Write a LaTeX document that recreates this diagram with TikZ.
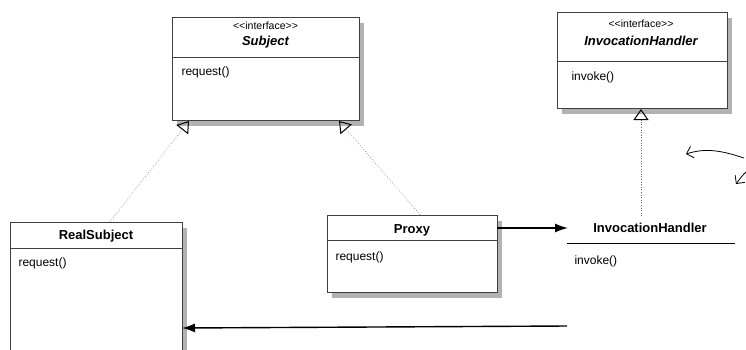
\documentclass[tikz,border=0pt]{standalone}
\usepackage{fontspec}
\setmainfont{Liberation Sans}
\usetikzlibrary{arrows.meta,shadows}

\tikzset{
  classbox/.style={draw=black!75, line width=0.6pt, fill=white, rectangle,
    drop shadow={shadow xshift=5pt, shadow yshift=-6pt, fill=black, opacity=0.3}},
  stereo/.style={font=\fontsize{10.5}{12}\selectfont},
  cname/.style={font=\fontsize{13}{15}\selectfont\bfseries},
  method/.style={anchor=west, font=\fontsize{12}{14}\selectfont},
  realize/.style={dotted, line width=0.6pt, black!60, -{Triangle[open, width=15pt, length=11pt, black, line width=1pt]}},
  assoc/.style={line width=1.4pt, -{Latex[length=13pt, width=9pt]}}
}

\begin{document}
\begin{tikzpicture}[x=1pt, y=-1pt]
        \useasboundingbox (0,0) rectangle (746,349);
        \node[classbox, minimum width=187pt, minimum height=103pt] (subject) at (265.5,68.5) {};
        \node[stereo] (subjectStereo) at (265.5,26) {{<}{<}interface{>}{>}};
        \node[cname, font=\fontsize{13}{15}\selectfont\bfseries\itshape] (subjectName) at (265.5,42) {Subject};
        \draw[line width=0.6pt, black!75] (172,57) -- (359,57);
        \node[method] (subjectReq) at (178,72) {request()};

        \node[classbox, minimum width=170pt, minimum height=96pt] (handlerIf) at (642,60) {};
        \node[stereo] (handlerStereo) at (641,24) {{<}{<}interface{>}{>}};
        \node[cname, font=\fontsize{13}{15}\selectfont\bfseries\itshape] (handlerIfName) at (641,41) {InvocationHandler};
        \draw[line width=0.6pt, black!75] (557,61) -- (727,61);
        \node[method] (handlerIfInvoke) at (568,77) {invoke()};

        \node[classbox, minimum width=172pt, minimum height=128pt] (realSubject) at (96,286) {};
        \node[cname] (realSubjectName) at (96,236) {RealSubject};
        \draw[line width=0.6pt, black!75] (10,248) -- (182,248);
        \node[method] (realSubjectReq) at (15,263) {request()};

        \node[classbox, minimum width=170pt, minimum height=77pt] (proxy) at (412,253.5) {};
        \node[cname] (proxyName) at (412,230) {Proxy};
        \draw[line width=0.6pt, black!75] (327,240) -- (497,240);
        \node[method] (proxyReq) at (332,257) {request()};

        \node[cname] (handler) at (650,228) {InvocationHandler};
        \draw[line width=0.7pt] (567,243) -- (735,243);
        \node[method] (handlerInvoke) at (571,261) {invoke()};

        \coordinate (subjectLeft) at (189,121);
        \coordinate (subjectRight) at (339,121);
        \coordinate (handlerIfBottom) at (641,109);
        \coordinate (handlerTop) at (641,216);
        \coordinate (proxyOut) at (497,228);
        \coordinate (handlerIn) at (568,228);
        \coordinate (bottomStart) at (567,326);
        \coordinate (realIn) at (182,328);

        \draw[realize] (realSubject.north) ++(14,0) -- (subjectLeft);
        \draw[realize] (proxy.north) ++(8,0) -- (subjectRight);
        \draw[realize] (handlerTop) -- (handlerIfBottom);
        \draw[assoc] (proxyOut) -- (handlerIn);
        \draw[assoc] (bottomStart) -- (realIn);

        \draw[line width=0.8pt, -{Straight Barb[length=6pt]}] (744,158) .. controls (720,150) and (705,148) .. (686,154);
        \draw[line width=0.8pt, -{Straight Barb[length=6pt]}] (746,172) .. controls (742,176) .. (736,184);
\end{tikzpicture}
\end{document}
